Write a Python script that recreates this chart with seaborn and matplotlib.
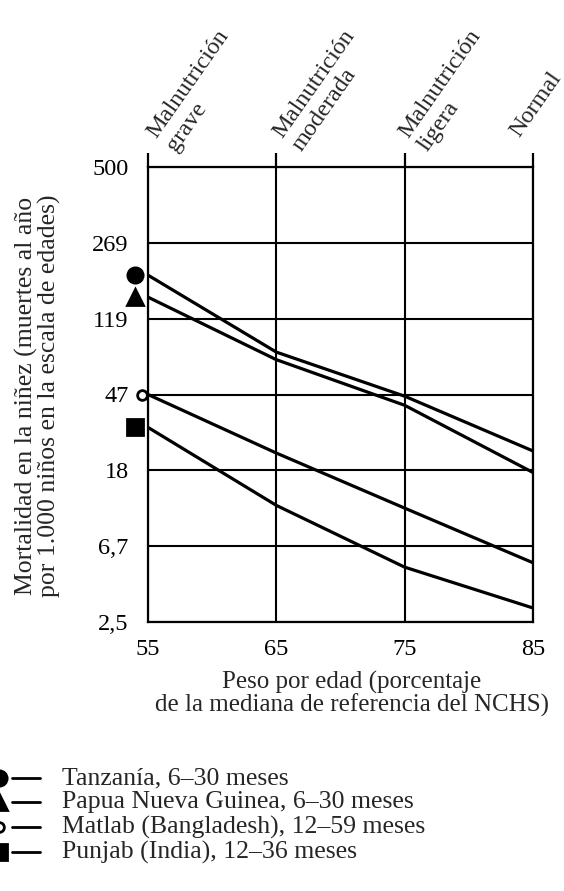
import numpy as np
import pandas as pd
import matplotlib
matplotlib.use("Agg")
import matplotlib.pyplot as plt
from matplotlib.lines import Line2D
import seaborn as sns

# peso por edad (% de la mediana de referencia NCHS)
weight_pct = [55, 65, 75, 85]

# mortalidad (muertes al año por 1.000 niños)
tanzania = [190, 79, 46, 23]
papua = [150, 72, 41, 17.5]
matlab = [47, 22.4, 11.0, 5.4]
punjab = [31, 11.4, 5.1, 3.0]

series_names = ["Tanzanía, 6–30 meses", "Papua Nueva Guinea, 6–30 meses",
                "Matlab (Bangladesh), 12–59 meses", "Punjab (India), 12–36 meses"]
series_markers = ["o", "^", "o", "s"]
series_filled = [True, True, False, True]

y_ticks = [2.5, 6.7, 18, 47, 119, 269, 500]
y_tick_labels = ["2,5", "6,7", "18", "47", "119", "269", "500"]
top_labels = ["Malnutrición\ngrave", "Malnutrición\nmoderada", "Malnutrición\nligera", "Normal"]

sns.set_theme(style="white")
plt.rcParams["font.family"] = ["Liberation Serif", "DejaVu Serif"]

df = pd.DataFrame({
    "pct": weight_pct * 4,
    "mort": tanzania + papua + matlab + punjab,
    "pais": np.repeat(series_names, len(weight_pct)),
})

# the printed axis spaces the labelled values evenly
log_ticks = np.log(y_ticks)
tick_pos = np.arange(len(y_ticks), dtype=float)


def forward(v):
    v = np.clip(np.asarray(v, dtype=float), 1e-6, None)
    return np.interp(np.log(v), log_ticks, tick_pos)


def inverse(p):
    return np.exp(np.interp(np.asarray(p, dtype=float), tick_pos, log_ticks))


fig = plt.figure(figsize=(5.64, 8.91), dpi=100)
ax = fig.add_axes([148 / 564, 1 - 622 / 891, (533 - 148) / 564, (622 - 167) / 891])

sns.lineplot(data=df, x="pct", y="mort", hue="pais", palette=["black"] * 4,
             linewidth=2.3, legend=False, ax=ax)

ax.set_yscale("function", functions=(forward, inverse))
ax.set_ylim(2.5, 500)
ax.set_xlim(55, 85)
ax.set_yticks(y_ticks)
ax.set_yticklabels(y_tick_labels)
ax.yaxis.set_minor_locator(matplotlib.ticker.NullLocator())
ax.set_xticks(weight_pct)
ax.set_xticklabels([str(v) for v in weight_pct])
ax.tick_params(axis="both", length=0, labelsize=17.5, colors="black")
ax.tick_params(axis="y", pad=14)
ax.tick_params(axis="x", pad=12)
ax.grid(True, color="black", linewidth=1.5)
for s in ax.spines.values():
    s.set_color("black")
    s.set_linewidth(1.6)
ax.set_xlabel("")
ax.set_ylabel("")

# vertical lines run a little above the top line
ax.vlines(weight_pct, 1.0, 1.031, transform=ax.get_xaxis_transform(),
          color="black", linewidth=1.6, clip_on=False)

# start markers sit just left of the axis
marker_dx = [1.0, 1.0, 0.45, 1.0]
marker_size = [11, 12, 7, 12]
for vals, m, filled, dx, ms in zip([tanzania, papua, matlab, punjab], series_markers,
                                   series_filled, marker_dx, marker_size):
    ax.plot(weight_pct[0] - dx, vals[0], marker=m, ms=ms,
            mfc="black" if filled else "white", mec="black", mew=2,
            clip_on=False, zorder=5)

# category labels above the top
label_off = [(32, 12), (29, 12), (27, 12), (-10, 26)]
for x, lab, (dx, dy) in zip(weight_pct, top_labels, label_off):
    ax.annotate(lab, xy=(x, 1.0), xycoords=("data", "axes fraction"),
                xytext=(dx, dy), textcoords="offset pixels",
                rotation=55, rotation_mode="anchor", ha="left", va="bottom",
                fontsize=17.5, linespacing=1.15, annotation_clip=False)

fig.text(38 / 564, 1 - 396 / 891,
         "Mortalidad en la niñez (muertes al año\npor 1.000 niños en la escala de edades)",
         rotation=90, ha="center", va="center", fontsize=18.5, linespacing=1.0)
fig.text(352 / 564, 1 - 694 / 891,
         "Peso por edad (porcentaje\nde la mediana de referencia del NCHS)",
         ha="center", va="center", fontsize=18, linespacing=1.0)

# legend drawn by hand at the bottom left
row_y = [778, 802, 827, 852]
for name, m, filled, ms, py in zip(series_names, series_markers, series_filled,
                                   marker_size, row_y):
    yf = 1 - py / 891
    fig.add_artist(Line2D([12 / 564, 40 / 564], [yf, yf], color="black", lw=2,
                          transform=fig.transFigure))
    fig.add_artist(Line2D([-1 / 564], [yf], marker=m, ms=ms,
                          mfc="black" if filled else "white", mec="black", mew=2,
                          transform=fig.transFigure))
    fig.text(62 / 564, yf, name, ha="left", va="center", fontsize=18.5)

fig.savefig("out.png", dpi=100, facecolor="white")
